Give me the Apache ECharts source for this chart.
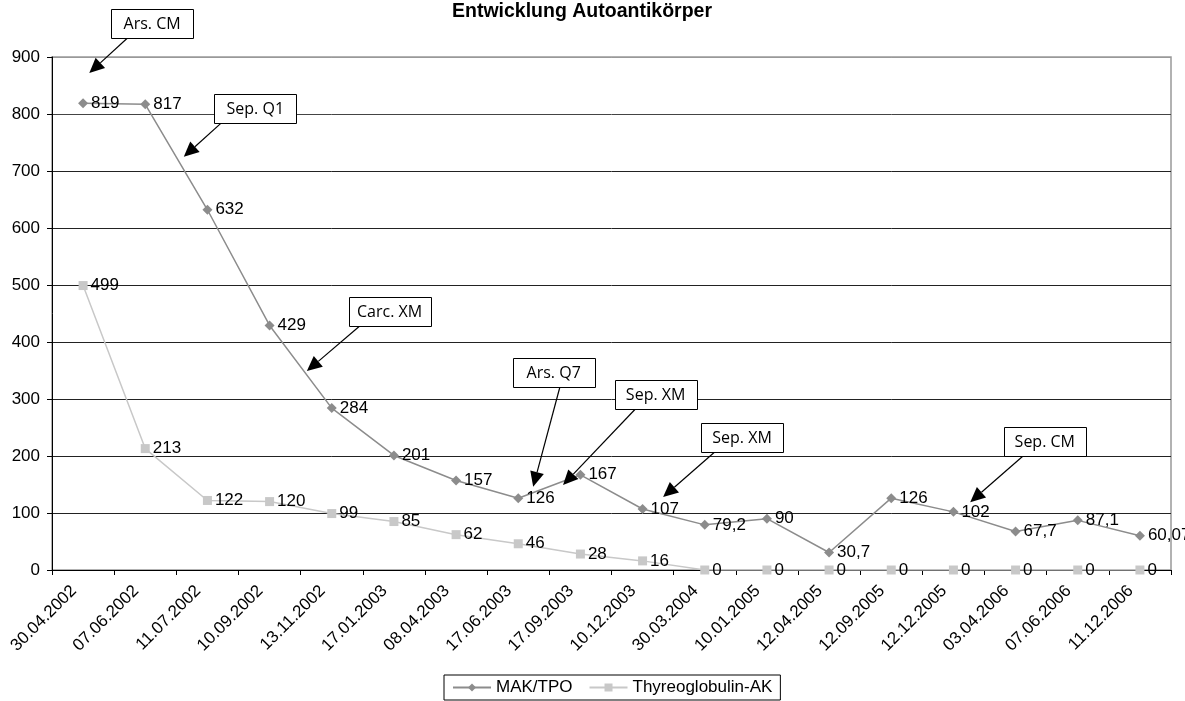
<!DOCTYPE html>
<html>
<head>
<meta charset="utf-8">
<script src="https://cdn.jsdelivr.net/npm/echarts@6/dist/echarts.min.js"></script>
<style>html,body{margin:0;padding:0;background:#fff;}#c{width:1185px;height:701px;}</style>
</head>
<body>
<div id="c"></div>
<script>
const categories = ['30.04.2002','07.06.2002','11.07.2002','10.09.2002','13.11.2002','17.01.2003','08.04.2003','17.06.2003','17.09.2003','10.12.2003','30.03.2004','10.01.2005','12.04.2005','12.09.2005','12.12.2005','03.04.2006','07.06.2006','11.12.2006'];
const makTpo = [819, 817, 632, 429, 284, 201, 157, 126, 167, 107, 79.2, 90, 30.7, 126, 102, 67.7, 87.1, 60.07];
const thyreo = [499, 213, 122, 120, 99, 85, 62, 46, 28, 16, 0, 0, 0, 0, 0, 0, 0, 0];
const seriesNames = ['MAK/TPO', 'Thyreoglobulin-AK'];
const yMin = 0, yMax = 900, yStep = 100;

// annotations in data coordinates: [category position, value]
const annotTexts = ['Ars. CM','Sep. Q1','Carc. XM','Ars. Q7','Sep. XM','Sep. XM','Sep. CM'];
const annotBox  = [[1.11,959],[2.77,810],[4.93,453],[7.57,346],[9.21,308],[10.60,232],[15.47,225]];
const annotFrom = [[0.71,933],[2.22,784],[4.45,428],[7.67,321],[8.88,282],[10.16,207],[15.12,200]];
const annotTo   = [[0.10,872],[1.62,725],[3.60,349],[7.24,146],[7.72,149],[9.33,128],[14.27,119]];

const FONT = "'Liberation Sans', Arial, sans-serif";
const FS = 17;
const chart = echarts.init(document.getElementById('c'), null, {renderer: 'canvas'});
const fmt = p => String(p.value).replace('.', ',');

chart.setOption({
  animation: false,
  backgroundColor: '#fff',
  title: {
    text: 'Entwicklung Autoantikörper',
    left: 452, top: 0, padding: [2, 0, 0, 0],
    textStyle: {fontFamily: FONT, fontWeight: 'bold', fontSize: 19.5, color: '#000'}
  },
  grid: {left: 52, right: 14, top: 57, bottom: 131, show: true, borderColor: '#999', borderWidth: 1.5},
  legend: {
    data: seriesNames,
    left: 444, top: 675,
    padding: [4, 8, 4, 8],
    itemGap: 16, itemWidth: 38, itemHeight: 10,
    borderColor: '#000', borderWidth: 1,
    textStyle: {fontFamily: FONT, fontSize: FS, color: '#000'}
  },
  xAxis: {
    type: 'category', data: categories, boundaryGap: true,
    axisLine: {lineStyle: {color: '#000', width: 1}},
    axisTick: {show: true, length: 5, lineStyle: {color: '#000'}},
    axisLabel: {rotate: 45, interval: 0, fontFamily: FONT, fontSize: FS, color: '#000', margin: 9, padding: [0, 13, 0, 0]},
    splitLine: {show: false}
  },
  yAxis: {
    type: 'value', min: yMin, max: yMax, interval: yStep,
    axisLine: {show: true, lineStyle: {color: '#000', width: 1}},
    axisTick: {show: true, length: 5, lineStyle: {color: '#000'}},
    axisLabel: {fontFamily: FONT, fontSize: FS, color: '#000', margin: 12},
    splitLine: {show: true, lineStyle: {color: ['#000','#222','#222','#222','#222','#222','#222','#222','#444','#999'], width: 1}}
  },
  series: [
    {
      name: seriesNames[0], type: 'line', data: makTpo,
      symbol: 'diamond', symbolSize: 10,
      lineStyle: {color: '#8c8c8c', width: 1.5},
      itemStyle: {color: '#8c8c8c'},
      label: {show: true, position: 'right', distance: 3, formatter: fmt, fontFamily: FONT, fontSize: FS, color: '#000'},
      z: 3
    },
    {
      name: seriesNames[1], type: 'line', data: thyreo,
      symbol: 'rect', symbolSize: 9,
      lineStyle: {color: '#c8c8c8', width: 1.5},
      itemStyle: {color: '#c8c8c8'},
      label: {show: true, position: 'right', distance: 3, formatter: fmt, fontFamily: FONT, fontSize: FS, color: '#000'},
      z: 2
    }
  ]
});

function toPx(p) {
  const x0 = chart.convertToPixel({xAxisIndex: 0}, 0);
  const x1 = chart.convertToPixel({xAxisIndex: 0}, 1);
  const y = chart.convertToPixel({yAxisIndex: 0}, p[1]);
  return [x0 + (x1 - x0) * p[0], y];
}

const elems = [];
annotTexts.forEach((t, i) => {
  const c = toPx(annotBox[i]);
  const a = toPx(annotFrom[i]);
  const b = toPx(annotTo[i]);
  const dx = b[0] - a[0], dy = b[1] - a[1];
  const len = Math.sqrt(dx * dx + dy * dy);
  const ux = dx / len, uy = dy / len;
  const nx = -uy, ny = ux;
  const L = 15, W = 7;
  const bx = b[0] - ux * L, by = b[1] - uy * L;
  elems.push({type: 'line', z: 100, shape: {x1: a[0], y1: a[1], x2: bx, y2: by}, style: {stroke: '#000', lineWidth: 1.2}});
  elems.push({type: 'polygon', z: 100, shape: {points: [[b[0], b[1]], [bx + nx * W, by + ny * W], [bx - nx * W, by - ny * W]]}, style: {fill: '#000'}});
  const w = 82, h = 29;
  elems.push({type: 'rect', z: 101, shape: {x: Math.round(c[0] - w / 2) + 0.5, y: Math.round(c[1] - h / 2) + 0.5, width: w, height: h}, style: {fill: '#fff', stroke: '#000', lineWidth: 1}});
  elems.push({type: 'text', z: 102, x: c[0], y: c[1] + 1, style: {text: t, align: 'center', verticalAlign: 'middle', font: "16px 'Open Sans', sans-serif", fill: '#000'}});
});
chart.setOption({graphic: elems});
</script>
</body>
</html>
